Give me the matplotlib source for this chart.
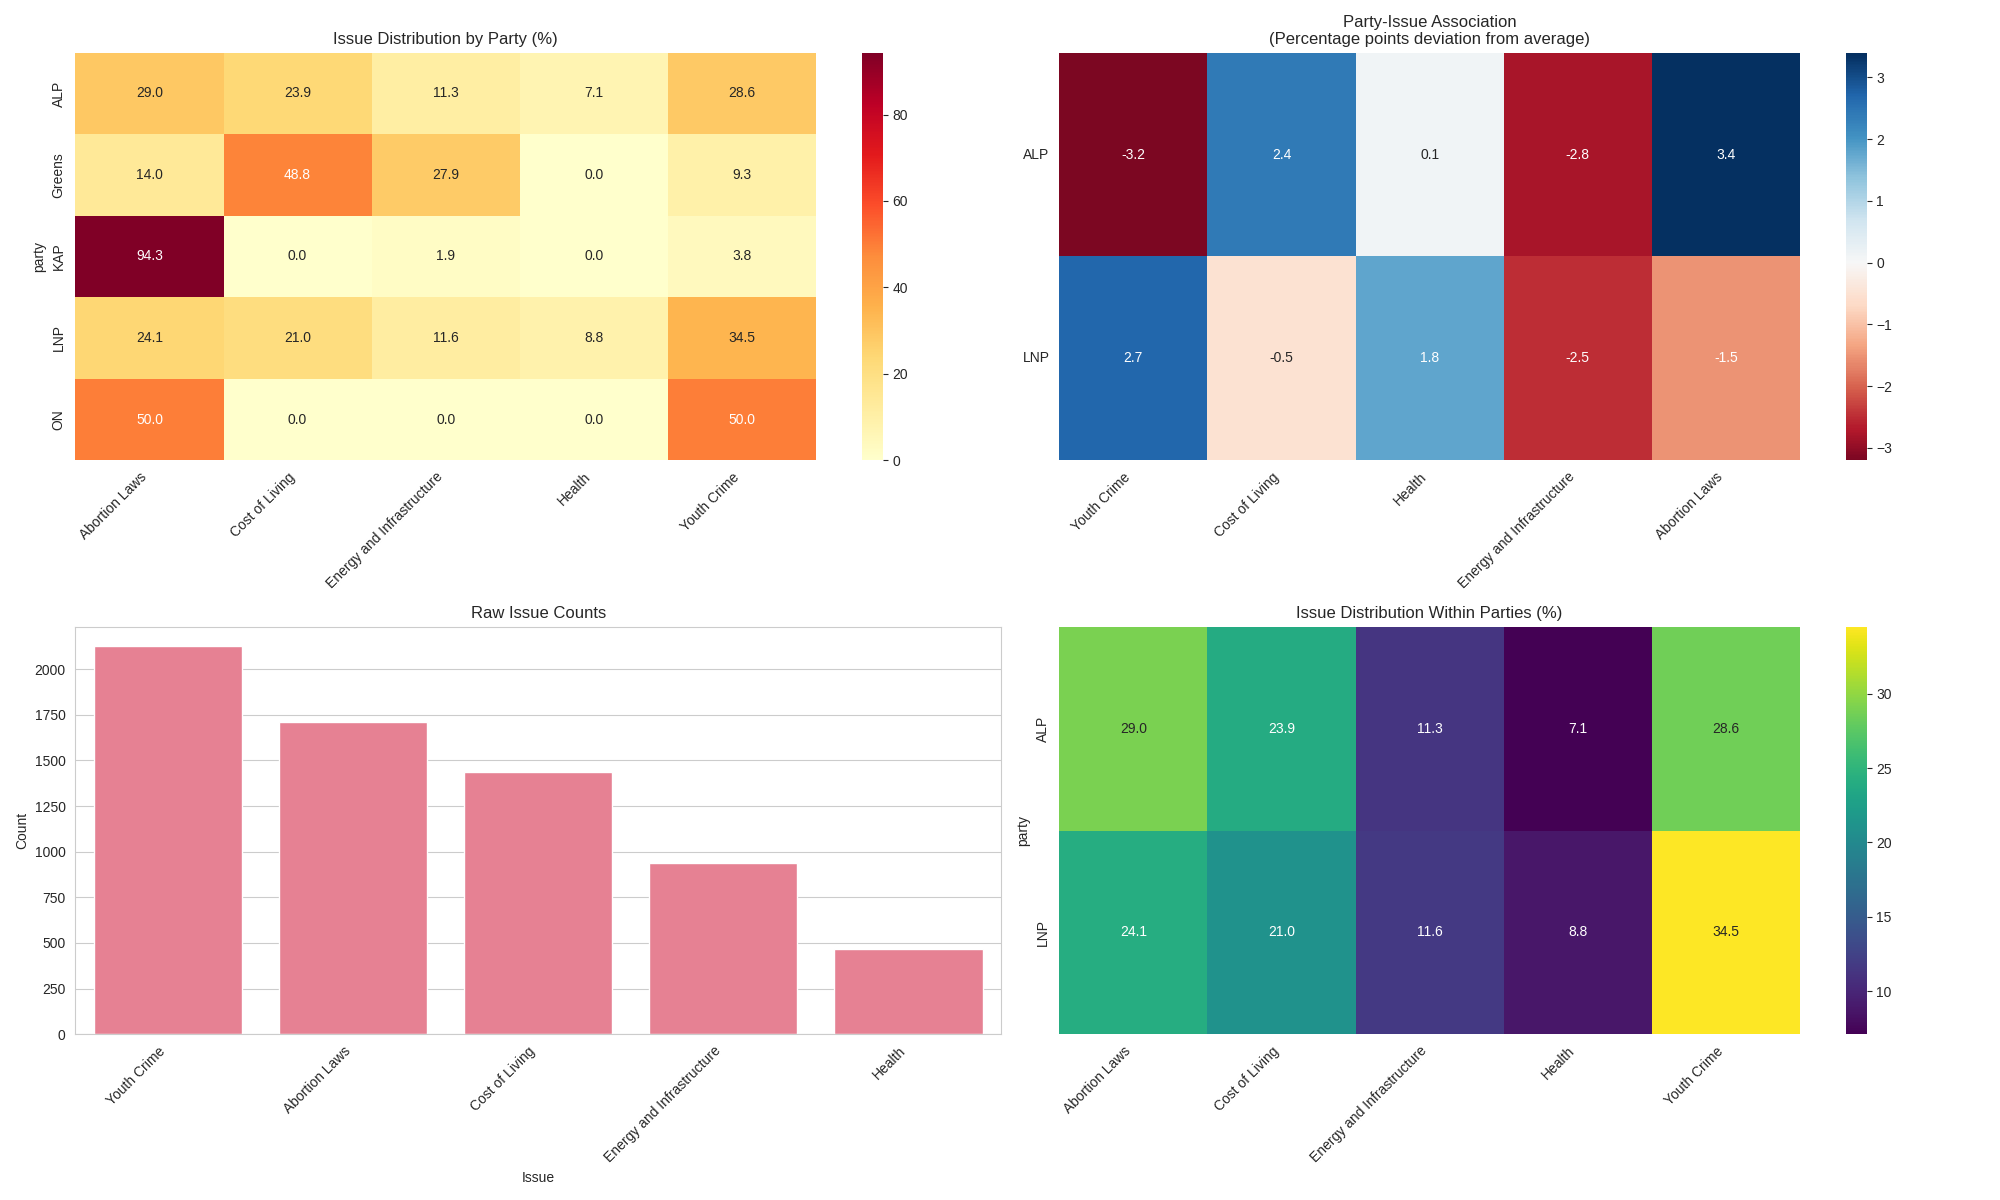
import numpy as np
import pandas as pd
import matplotlib
matplotlib.use("Agg")
import matplotlib.pyplot as plt
import seaborn as sns

sns.set_style("whitegrid")
plt.rcParams['font.family'] = ['Liberation Sans', 'DejaVu Sans']

# Issue distribution by party (%)
issues = ["Abortion Laws", "Cost of Living", "Energy and Infrastructure", "Health", "Youth Crime"]
parties = ["ALP", "Greens", "KAP", "LNP", "ON"]
dist_alp = [29.0, 23.9, 11.3, 7.1, 28.6]
dist_greens = [14.0, 48.8, 27.9, 0.0, 9.3]
dist_kap = [94.3, 0.0, 1.9, 0.0, 3.8]
dist_lnp = [24.1, 21.0, 11.6, 8.8, 34.5]
dist_on = [50.0, 0.0, 0.0, 0.0, 50.0]

# deviation from average (percentage points)
assoc_issues = ["Youth Crime", "Cost of Living", "Health", "Energy and Infrastructure", "Abortion Laws"]
assoc_parties = ["ALP", "LNP"]
assoc_alp = [-3.2, 2.4, 0.1, -2.8, 3.4]
assoc_lnp = [2.7, -0.5, 1.8, -2.5, -1.5]

# raw counts
count_issues = ["Youth Crime", "Abortion Laws", "Cost of Living", "Energy and Infrastructure", "Health"]
counts = [2126, 1711, 1436, 938, 466]

# within main parties
within_parties = ["ALP", "LNP"]

dist = pd.DataFrame([dist_alp, dist_greens, dist_kap, dist_lnp, dist_on],
                    index=pd.Index(parties, name="party"), columns=issues)
assoc = pd.DataFrame([assoc_alp, assoc_lnp], index=assoc_parties, columns=assoc_issues)
within = pd.DataFrame([dist_alp, dist_lnp], index=pd.Index(within_parties, name="party"), columns=issues)

fig, axes = plt.subplots(2, 2, figsize=(20, 12), dpi=100)

ax = axes[0, 0]
sns.heatmap(dist, annot=True, fmt=".1f", cmap="YlOrRd", ax=ax)
ax.set_title("Issue Distribution by Party (%)")
ax.set_xlabel("")
plt.setp(ax.get_xticklabels(), rotation=45, ha="right")

ax = axes[0, 1]
sns.heatmap(assoc, annot=True, fmt=".1f", cmap="RdBu", center=0, ax=ax)
ax.set_title("Party-Issue Association\n(Percentage points deviation from average)")
plt.setp(ax.get_xticklabels(), rotation=45, ha="right")
plt.setp(ax.get_yticklabels(), rotation=0)

ax = axes[1, 0]
husl0 = sns.color_palette("husl", 8)[0]
sns.barplot(x=count_issues, y=counts, color=husl0, ax=ax)
ax.set_title("Raw Issue Counts")
ax.set_xlabel("Issue")
ax.set_ylabel("Count")
plt.setp(ax.get_xticklabels(), rotation=45, ha="right")

ax = axes[1, 1]
sns.heatmap(within, annot=True, fmt=".1f", cmap="viridis", ax=ax)
ax.set_title("Issue Distribution Within Parties (%)")
ax.set_xlabel("")
plt.setp(ax.get_xticklabels(), rotation=45, ha="right")

plt.tight_layout()
plt.savefig("out.png", dpi=100)
